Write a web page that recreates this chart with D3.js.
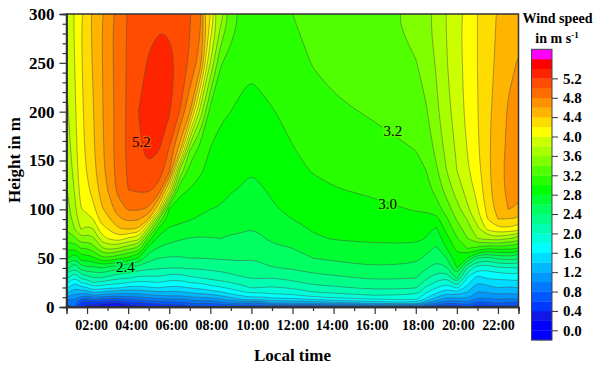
<!DOCTYPE html>
<html>
  <head>
    <title>Wind speed contour</title>
    <script src="https://d3js.org/d3.v7.min.js"></script>
    <style>
      body { margin: 0; background: #fff; }
      text { font-family: "Liberation Serif", "Times New Roman", serif; fill: #000; }
      .domain, .tick line { stroke: #333; }
    </style>
  </head>
  <body>
    <div id="chart"></div>
    <script>
      // Local time of each column, in hours
      const times = [1, 1.4, 1.7, 2, 2.3, 2.7, 3, 3.5, 4, 4.5, 5, 5.5, 6, 6.5, 7, 7.5, 8, 8.5, 9, 9.5, 10, 10.5, 11, 12, 13, 14, 16, 18, 18.5, 19, 19.5, 20, 20.5, 21, 21.5, 22, 22.5, 23];
      // Height of each value within a column, in m
      const heights = [0, 4, 8, 12, 16, 20, 25, 30, 40, 50, 60, 70, 80, 90, 100, 120, 140, 160, 200, 250, 300];

      // Wind speed, one row per time, bottom to top
      const windSpeed = [
        [.7,.85,1.05,1.3,1.5,1.65,1.85,2.05,2.5,2.85,3.07,3.3,3.42,3.46,3.5,3.58,3.63,3.68,3.75,3.82,3.88],
        [.8,.85,1.0,1.15,1.3,1.45,1.6,1.8,2.2,2.6,3.0,3.35,3.6,3.69,3.75,3.82,3.87,3.92,3.97,4.0,4.02],
        [.4,.55,.8,1.1,1.35,1.55,1.8,2.05,2.5,2.9,3.2,3.55,3.81,3.92,3.99,4.08,4.12,4.13,4.15,4.17,4.19],
        [.3,.45,.75,1.05,1.35,1.6,1.85,2.1,2.55,2.9,3.2,3.5,3.75,3.93,4.05,4.16,4.21,4.24,4.28,4.31,4.33],
        [.3,.5,.85,1.2,1.5,1.75,2.0,2.2,2.55,2.95,3.3,3.55,3.8,4.0,4.15,4.27,4.33,4.37,4.39,4.42,4.44],
        [.25,.45,.8,1.15,1.45,1.7,1.95,2.2,2.6,3.15,3.55,3.9,4.12,4.28,4.37,4.48,4.53,4.55,4.57,4.58,4.59],
        [.2,.4,.75,1.1,1.4,1.65,1.9,2.15,2.55,3.15,3.65,4.0,4.2,4.35,4.47,4.6,4.66,4.68,4.69,4.7,4.71],
        [.2,.38,.72,1.08,1.35,1.65,1.85,2.05,2.45,3.05,3.6,4.13,4.38,4.55,4.7,4.85,4.87,4.88,4.87,4.88,4.88],
        [.2,.52,.8,1.1,1.3,1.55,1.8,2.03,2.4,2.95,3.45,3.95,4.42,4.65,4.82,5.0,5.03,5.04,5.04,5.03,5.02],
        [.25,.55,.85,1.12,1.33,1.55,1.75,1.95,2.3,2.8,3.33,3.9,4.38,4.62,4.82,5.03,5.12,5.17,5.2,5.13,5.07],
        [.32,.62,.92,1.17,1.38,1.58,1.77,1.95,2.25,2.48,2.7,3.1,3.72,4.4,4.77,5.03,5.17,5.25,5.29,5.22,5.12],
        [.4,.68,.95,1.2,1.42,1.62,1.8,1.97,2.22,2.4,2.58,2.73,2.93,3.4,4.2,4.93,5.1,5.2,5.32,5.32,5.14],
        [.4,.72,1.0,1.24,1.4,1.56,1.73,1.9,2.2,2.38,2.52,2.67,2.78,2.88,2.96,4.1,4.88,4.98,5.23,5.27,5.14],
        [.38,.72,.98,1.22,1.4,1.56,1.73,1.88,2.2,2.38,2.5,2.62,2.75,2.85,2.92,3.05,3.6,4.5,5.0,5.15,5.13],
        [.5,.8,1.05,1.3,1.47,1.62,1.8,1.97,2.22,2.4,2.5,2.59,2.72,2.81,2.88,2.99,3.12,3.4,4.62,4.97,5.02],
        [.55,.85,1.1,1.33,1.5,1.65,1.82,2.0,2.23,2.4,2.49,2.58,2.69,2.78,2.83,2.94,3.03,3.1,3.74,4.72,4.86],
        [.55,.8,1.1,1.35,1.55,1.73,1.9,2.05,2.25,2.41,2.5,2.59,2.66,2.73,2.8,2.87,2.94,2.99,3.12,3.8,4.2],
        [.55,.9,1.2,1.43,1.62,1.78,1.95,2.08,2.27,2.42,2.51,2.6,2.66,2.73,2.79,2.84,2.9,2.96,3.02,3.22,3.7],
        [.55,.98,1.3,1.52,1.72,1.85,2.0,2.13,2.3,2.42,2.5,2.57,2.64,2.7,2.75,2.81,2.87,2.92,3.0,3.1,3.39],
        [.55,1.02,1.4,1.62,1.8,1.92,2.07,2.18,2.33,2.43,2.49,2.55,2.64,2.7,2.73,2.79,2.84,2.89,2.97,3.05,3.18],
        [.6,1.0,1.5,1.7,1.88,2.02,2.13,2.21,2.33,2.41,2.48,2.54,2.6,2.64,2.67,2.74,2.81,2.86,2.94,3.03,3.12],
        [.6,1.0,1.45,1.68,1.86,2.0,2.12,2.22,2.35,2.45,2.52,2.58,2.64,2.7,2.74,2.79,2.84,2.89,2.97,3.05,3.12],
        [.6,1.2,1.55,1.75,1.88,1.98,2.1,2.2,2.39,2.47,2.56,2.63,2.69,2.75,2.78,2.82,2.87,2.92,2.99,3.08,3.14],
        [.6,1.2,1.55,1.77,1.92,2.03,2.16,2.26,2.42,2.52,2.6,2.67,2.73,2.8,2.84,2.91,2.96,2.99,3.05,3.13,3.2],
        [.6,1.25,1.62,1.88,2.02,2.13,2.25,2.35,2.46,2.6,2.67,2.77,2.82,2.86,2.9,2.96,3.01,3.05,3.12,3.21,3.28],
        [.6,1.3,1.72,1.94,2.05,2.17,2.28,2.36,2.52,2.63,2.73,2.81,2.86,2.9,2.94,2.99,3.04,3.09,3.17,3.25,3.3],
        [.6,1.45,1.8,2.0,2.15,2.25,2.35,2.43,2.58,2.69,2.76,2.83,2.88,2.93,2.96,3.03,3.08,3.14,3.22,3.3,3.33],
        [.7,1.55,1.85,1.97,2.13,2.22,2.33,2.41,2.55,2.65,2.76,2.84,2.9,2.96,3.01,3.09,3.15,3.2,3.3,3.39,3.49],
        [.6,1.2,1.55,1.72,1.85,1.97,2.13,2.24,2.42,2.56,2.67,2.79,2.85,2.93,3.03,3.12,3.2,3.27,3.38,3.48,3.57],
        [.5,1.0,1.3,1.5,1.68,1.82,1.97,2.1,2.32,2.45,2.57,2.67,2.78,2.93,3.1,3.27,3.37,3.45,3.56,3.62,3.66],
        [.35,.85,1.12,1.32,1.52,1.68,1.85,2.03,2.38,2.6,2.8,2.93,3.07,3.17,3.3,3.48,3.6,3.66,3.73,3.79,3.81],
        [.45,.8,1.13,1.38,1.6,1.85,2.15,2.45,2.8,2.92,3.05,3.18,3.3,3.42,3.52,3.7,3.8,3.83,3.9,3.93,3.95],
        [.6,.95,1.17,1.32,1.42,1.53,1.67,1.8,2.2,2.8,3.2,3.39,3.5,3.61,3.76,3.87,3.97,4.0,4.05,4.06,4.07],
        [.4,.7,.95,1.1,1.2,1.3,1.4,1.53,1.87,2.4,3.13,3.6,3.75,3.9,3.98,4.07,4.13,4.17,4.19,4.2,4.2],
        [.45,.75,.97,1.13,1.23,1.35,1.48,1.63,1.87,2.33,3.0,3.65,4.05,4.2,4.27,4.33,4.35,4.36,4.36,4.33,4.31],
        [.48,.8,1.0,1.17,1.28,1.41,1.55,1.63,1.97,2.45,3.07,3.7,4.17,4.4,4.48,4.53,4.53,4.52,4.48,4.44,4.42],
        [.48,.75,.97,1.13,1.27,1.38,1.53,1.65,1.98,2.47,3.04,3.6,4.15,4.39,4.6,4.64,4.65,4.64,4.62,4.56,4.49],
        [.5,.75,1.0,1.17,1.3,1.41,1.55,1.7,2.0,2.45,3.0,3.52,4.1,4.38,4.58,4.66,4.68,4.68,4.66,4.61,4.55],
      ];

      // Lower edge of each colour band and its colour
      const levels = [-0.2, 0, 0.2, 0.4, 0.6, 0.8, 1.0, 1.2, 1.4, 1.6, 1.8, 2.0, 2.2, 2.4, 2.6, 2.8, 3.0, 3.2, 3.4, 3.6, 3.8, 4.0, 4.2, 4.4, 4.6, 4.8, 5.0, 5.2, 5.4, 5.6];
      const colors = ["#0000ff", "#0000ff", "#1018e8", "#0038ff", "#0058ff", "#0078ff", "#0098ff", "#00b8ff", "#00dcff", "#00ffff", "#00ffd8", "#00ffb0", "#00ff88", "#00ff60", "#00ff30", "#00ff00", "#28ff00", "#50ff00", "#80ff00", "#a8ff00", "#ccff00", "#ffff00", "#ffdc00", "#ffb400", "#ff9000", "#ff6c00", "#ff4c00", "#ff2400", "#ff0000", "#ff00ff"];

      const hourTicks = [2, 4, 6, 8, 10, 12, 14, 16, 18, 20, 22];
      const hourLabels = ["02:00", "04:00", "06:00", "08:00", "10:00", "12:00", "14:00", "16:00", "18:00", "20:00", "22:00"];
      const hourMinorTicks = [1, 3, 5, 7, 9, 11, 13, 15, 17, 19, 21, 23];
      const heightTicks = [0, 50, 100, 150, 200, 250, 300];
      const heightMinorTicks = [10, 20, 30, 40, 60, 70, 80, 90, 110, 120, 130, 140, 160, 170, 180, 190, 210, 220, 230, 240, 260, 270, 280, 290];
      const colorbarTicks = [0, 0.4, 0.8, 1.2, 1.6, 2.0, 2.4, 2.8, 3.2, 3.6, 4.0, 4.4, 4.8, 5.2];

      // Labels sitting on the contour lines
      const labelText = ["5.2", "3.2", "3.0", "2.4"];
      const labelTime = [4.64, 16.88, 16.63, 3.86];
      const labelHeight = [169, 180, 106, 41];
      const labelColor = ["#ff4c00", "#50ff00", "#28ff00", "#00ff60"];

      const plot = { left: 66.5, right: 518.5, top: 14, bottom: 307 };

      const svg = d3.select("#chart").append("svg").attr("width", 600).attr("height", 369);

      const x = d3.scaleLinear().domain([1, 23]).range([plot.left, plot.right]);
      const y = d3.scaleLinear().domain([0, 300]).range([plot.bottom, plot.top]);

      // Contour coordinates are in cell units and the grid is not even, so go through the index first.
      // The outer half cell lands outside the frame and gets clipped
      const timeAt = d3.scaleLinear().domain(d3.range(times.length)).range(times);
      const heightAt = d3.scaleLinear().domain(d3.range(heights.length)).range(heights);

      const flat = [];
      heights.forEach((h, j) => times.forEach((t, i) => flat.push(windSpeed[i][j])));

      const bands = d3.contours().size([times.length, heights.length]).thresholds(levels)(flat);

      // Smooth the rings a little, marching squares leaves them angular
      const ringLine = d3.line()
        .x((p) => x(timeAt(p[0] - 0.5)))
        .y((p) => y(heightAt(p[1] - 0.5)))
        .curve(d3.curveBasisClosed);
      const bandPath = (band) =>
        band.coordinates.map((polygon) => polygon.map((ring) => ringLine(ring.slice(0, -1))).join("")).join("");

      svg.append("clipPath").attr("id", "plot-clip").append("rect")
        .attr("x", plot.left).attr("y", plot.top)
        .attr("width", plot.right - plot.left).attr("height", plot.bottom - plot.top);

      const field = svg.append("g").attr("clip-path", "url(#plot-clip)");
      field.selectAll("path.band").data(bands).join("path")
        .attr("class", "band")
        .attr("d", bandPath)
        .attr("fill", (d, i) => colors[i])
        .attr("fill-rule", "evenodd")
        .attr("stroke", (d, i) => (levels[i] > 0 ? "#4a4a4a" : "none"))
        .attr("stroke-opacity", 0.6)
        .attr("stroke-width", 0.8);

      // Contour labels
      svg.append("g").selectAll("text").data(labelText).join("text")
        .attr("x", (d, i) => x(labelTime[i]))
        .attr("y", (d, i) => y(labelHeight[i]))
        .attr("dy", "0.34em")
        .attr("text-anchor", "middle")
        .style("font-size", "15px")
        .style("paint-order", "stroke")
        .style("stroke", (d, i) => labelColor[i])
        .style("stroke-width", "3px")
        .text((d) => d);

      // Frame
      svg.append("rect")
        .attr("x", plot.left).attr("y", plot.top)
        .attr("width", plot.right - plot.left).attr("height", plot.bottom - plot.top)
        .attr("fill", "none").attr("stroke", "#333").attr("stroke-width", 1.5);

      // X axis
      const xAxis = svg.append("g").attr("transform", `translate(0,${plot.bottom})`)
        .call(d3.axisBottom(x).tickValues(hourTicks).tickSize(7).tickPadding(6)
          .tickFormat((d, i) => hourLabels[i]));
      svg.append("g").attr("transform", `translate(0,${plot.bottom})`)
        .call(d3.axisBottom(x).tickValues(hourMinorTicks).tickSize(4).tickFormat(""));

      // Y axis
      const yAxis = svg.append("g").attr("transform", `translate(${plot.left},0)`)
        .call(d3.axisLeft(y).tickValues(heightTicks).tickSize(7).tickPadding(5));
      svg.append("g").attr("transform", `translate(${plot.left},0)`)
        .call(d3.axisLeft(y).tickValues(heightMinorTicks).tickSize(4).tickFormat(""));

      svg.selectAll(".domain").attr("stroke-width", 1.5);
      svg.selectAll(".tick line").attr("stroke-width", 1.2);
      // The labels were nudged by hand in the original, they do not sit exactly under their ticks
      const labelNudge = [4, 3, 2, 1, 1, 0, -2, -3, 2, 1, 0];
      xAxis.selectAll("text")
        .attr("dx", (d, i) => labelNudge[i])
        .style("font-size", "14px").style("font-weight", "bold");
      yAxis.selectAll("text").style("font-size", "17px").style("font-weight", "bold");

      // Axis titles
      svg.append("text")
        .attr("x", 292.5).attr("y", 361)
        .attr("text-anchor", "middle")
        .style("font-size", "17px").style("font-weight", "bold")
        .text("Local time");
      svg.append("text")
        .attr("transform", "translate(20,160) rotate(-90)")
        .attr("text-anchor", "middle")
        .style("font-size", "17px").style("font-weight", "bold")
        .text("Height in m");

      // Colour bar
      const barLeft = 531.5, barRight = 552;
      const barScale = d3.scaleLinear().domain([-0.2, 5.8]).range([340, 49.3]);
      const barTop = levels.map((d, i) => (i + 1 < levels.length ? levels[i + 1] : 5.8));
      svg.append("g").selectAll("rect").data(levels).join("rect")
        .attr("x", barLeft)
        .attr("width", barRight - barLeft)
        .attr("y", (d, i) => barScale(barTop[i]))
        .attr("height", (d, i) => barScale(d) - barScale(barTop[i]) + 0.3)
        .attr("fill", (d, i) => colors[i]);
      svg.append("rect")
        .attr("x", barLeft).attr("y", barScale(5.8))
        .attr("width", barRight - barLeft).attr("height", barScale(-0.2) - barScale(5.8))
        .attr("fill", "none").attr("stroke", "#444").attr("stroke-width", 1);
      const barAxis = svg.append("g").attr("transform", `translate(${barRight},0)`)
        .call(d3.axisRight(barScale).tickValues(colorbarTicks).tickSize(6).tickPadding(5).tickFormat(d3.format(".1f")));
      barAxis.select(".domain").remove();
      barAxis.selectAll("text").style("font-size", "15px").style("font-weight", "bold");

      // Colour bar title
      svg.append("text")
        .attr("x", 557.5).attr("y", 23)
        .attr("text-anchor", "middle")
        .style("font-size", "14px").style("font-weight", "bold")
        .text("Wind speed");
      const unit = svg.append("text")
        .attr("x", 557).attr("y", 43)
        .attr("text-anchor", "middle")
        .style("font-size", "14px").style("font-weight", "bold")
        .text("in m s");
      unit.append("tspan").attr("dy", -5).style("font-size", "9px").text("-1");
    </script>
  </body>
</html>
